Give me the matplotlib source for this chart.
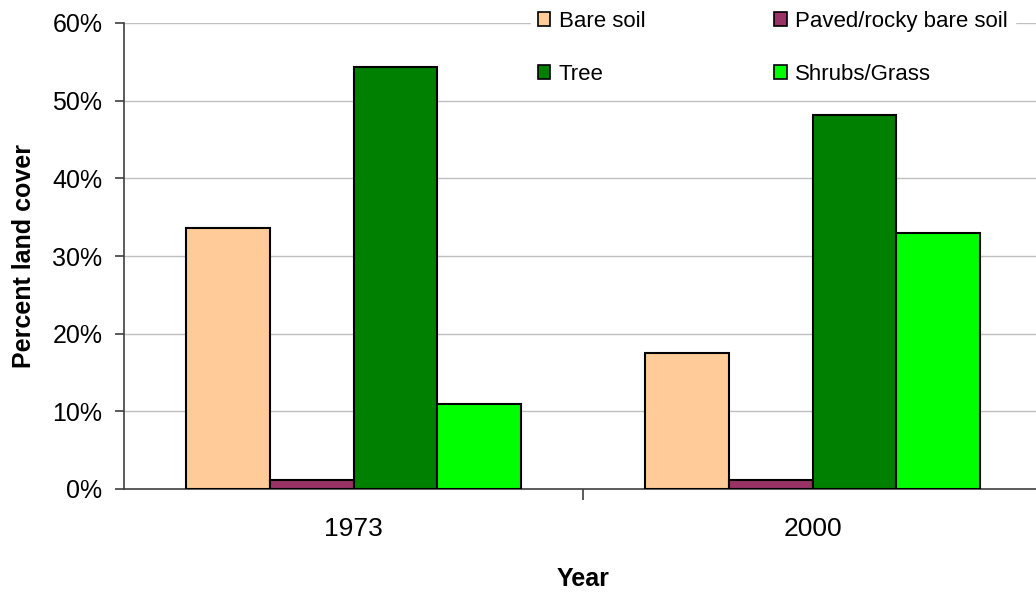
import numpy as np
import matplotlib
matplotlib.use("Agg")
import matplotlib.pyplot as plt
from matplotlib.ticker import PercentFormatter

plt.rcParams['font.family'] = ['Liberation Sans', 'DejaVu Sans']

years = ["1973", "2000"]
classes = ["Bare soil", "Paved/rocky bare soil", "Tree", "Shrubs/Grass"]
cover = {
    "Bare soil": [33.6, 17.5],
    "Paved/rocky bare soil": [1.1, 1.1],
    "Tree": [54.3, 48.1],
    "Shrubs/Grass": [10.9, 32.9],
}
colors = {
    "Bare soil": "#FFCC99",
    "Paved/rocky bare soil": "#993366",
    "Tree": "#008000",
    "Shrubs/Grass": "#00FF00",
}

fig = plt.figure(figsize=(10.36, 5.93), dpi=100)
ax = fig.add_axes([124 / 1036, 104 / 593, 918 / 1036, 466 / 593])

x = np.arange(len(years))
w = 0.728 / 4
bars = {}
for i, c in enumerate(classes):
    bars[c] = ax.bar(x + (i - 1.5) * w, cover[c], w, color=colors[c],
                     edgecolor="black", linewidth=1.5, zorder=3)

ax.set_xlim(-0.5, 1.5)
ax.set_ylim(0, 60)
ax.set_yticks(np.arange(0, 61, 10))
ax.yaxis.set_major_formatter(PercentFormatter(decimals=0))
ax.grid(axis="y", color="#c0c0c0", linewidth=1, zorder=0)

ax.set_xticks(x)
ax.set_xticklabels(years)
ax.set_xticks([0.5], minor=True)
ax.tick_params(axis="x", which="major", length=0, labelsize=19, pad=20)
ax.tick_params(axis="x", which="minor", length=8, width=1.2, color="#404040", direction="out")
ax.tick_params(axis="y", length=6.5, width=1.2, color="#404040", labelsize=18, pad=9)

for s in ["top", "right"]:
    ax.spines[s].set_visible(False)
ax.spines["left"].set_color("#404040")
ax.spines["bottom"].set_color("#404040")
ax.spines["left"].set_linewidth(1.2)
ax.spines["bottom"].set_linewidth(1.2)
ax.axhline(60, color="#808080", linewidth=1.2, zorder=1)

ax.set_ylabel("Percent land cover", fontsize=18, fontweight="bold", labelpad=12)
ax.set_xlabel("Year", fontsize=18, fontweight="bold", labelpad=19)

order = ["Bare soil", "Tree", "Paved/rocky bare soil", "Shrubs/Grass"]
leg = fig.legend([bars[c] for c in order], order, ncol=2, loc="upper left",
                 bbox_to_anchor=(531 / 1036, 1 - 4 / 593), frameon=True,
                 fontsize=16, handlelength=0.55, handleheight=0.55,
                 handletextpad=0.4, labelspacing=1.45, columnspacing=5.8,
                 borderpad=0.3, borderaxespad=0)
leg.get_frame().set_edgecolor("white")
leg.get_frame().set_facecolor("white")
leg.get_frame().set_alpha(1)
for h in leg.legend_handles:
    h.set_linewidth(1.2)

fig.savefig("out.png", dpi=100)
